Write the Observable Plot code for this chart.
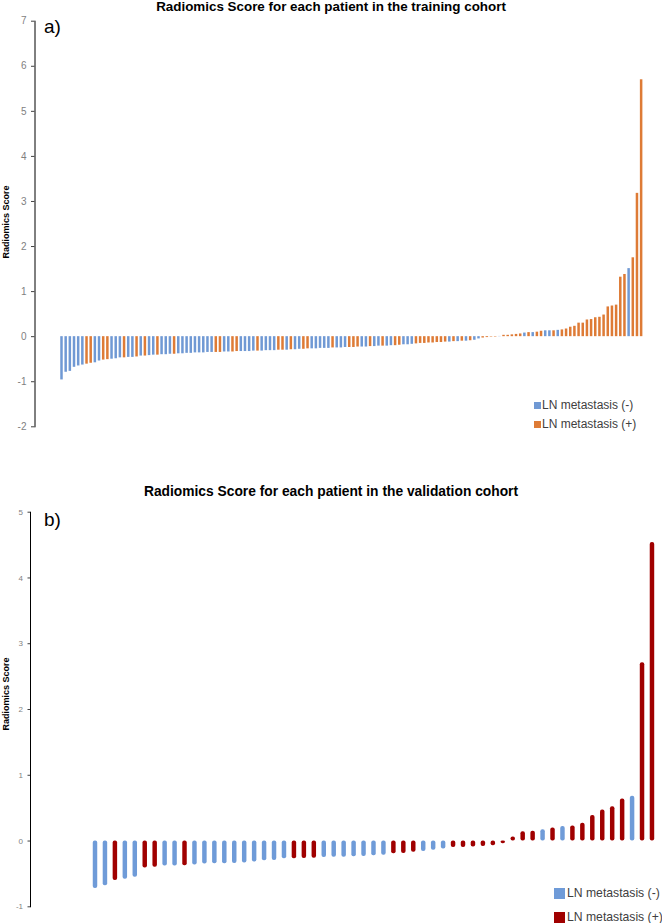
<!DOCTYPE html>
<html>
<head>
<meta charset="utf-8">
<script src="https://cdn.jsdelivr.net/npm/d3@7"></script>
<script src="https://cdn.jsdelivr.net/npm/@observablehq/plot@0.6"></script>
<style>
  html, body { margin: 0; padding: 0; background: #fff; }
  #root { position: relative; width: 662px; height: 923px; overflow: hidden; font-family: "Liberation Sans", Arial, sans-serif; color: #000; }
  .abs { position: absolute; white-space: nowrap; line-height: 1; }
  .title { font-weight: bold; width: 662px; left: 0; text-align: center; }
  .ylab { font-weight: bold; font-size: 9px; transform-origin: center; transform: translate(-50%, -50%) rotate(-90deg); }
  .panel { font-size: 19px; }
  .leg { display: flex; align-items: center; color: #404040; }
  .sw { display: inline-block; margin-right: 1px; }
  svg g[aria-label="y-axis tick label"] { fill: #7f7f7f; }
  svg g[aria-label="y-axis tick"] { stroke: #404040; }
</style>
</head>
<body>
<div id="root">
  <div id="top" class="abs" style="left:0;top:0;"></div>
  <div id="bottom" class="abs" style="left:0;top:480px;"></div>

  <div class="abs title" style="top:0px;font-size:13.4px;">Radiomics Score for each patient in the training cohort</div>
  <div class="abs panel" style="left:44px;top:17px;">a)</div>
  <div class="abs ylab" style="left:6px;top:222px;">Radiomics Score</div>
  <div class="abs leg" style="left:534px;top:399px;font-size:12px;"><span class="sw" style="width:7px;height:7px;background:#7099d4"></span>LN metastasis (-)</div>
  <div class="abs leg" style="left:534px;top:418px;font-size:12px;"><span class="sw" style="width:7px;height:7px;background:#de7b36"></span>LN metastasis (+)</div>

  <div class="abs title" style="top:485px;font-size:13.8px;">Radiomics Score for each patient in the validation cohort</div>
  <div class="abs panel" style="left:44px;top:510px;">b)</div>
  <div class="abs ylab" style="left:6px;top:694px;">Radiomics Score</div>
  <div class="abs leg" style="left:554px;top:887px;font-size:12.2px;"><span class="sw" style="width:11px;height:11px;background:#6f9bd8;margin-right:2px"></span>LN metastasis (-)</div>
  <div class="abs leg" style="left:554px;top:911px;font-size:12.2px;"><span class="sw" style="width:11px;height:11px;background:#a00000;margin-right:2px"></span>LN metastasis (+)</div>
</div>
<script>
const trainScores = [
  -0.96, -0.79, -0.77, -0.68, -0.65, -0.63, -0.61, -0.59, -0.58, -0.54,
  -0.52, -0.51, -0.50, -0.49, -0.47, -0.47, -0.46, -0.46, -0.45, -0.43,
  -0.43, -0.42, -0.41, -0.41, -0.40, -0.40, -0.39, -0.39, -0.38, -0.38,
  -0.37, -0.37, -0.36, -0.36, -0.36, -0.35, -0.35, -0.35, -0.35, -0.34,
  -0.34, -0.34, -0.33, -0.33, -0.33, -0.33, -0.32, -0.32, -0.32, -0.31,
  -0.31, -0.31, -0.30, -0.30, -0.30, -0.29, -0.29, -0.28, -0.28, -0.27,
  -0.27, -0.27, -0.26, -0.26, -0.26, -0.25, -0.25, -0.25, -0.24, -0.24,
  -0.24, -0.23, -0.23, -0.23, -0.22, -0.22, -0.21, -0.21, -0.21, -0.20,
  -0.20, -0.19, -0.18, -0.18, -0.17, -0.16, -0.15, -0.15, -0.14, -0.14,
  -0.13, -0.13, -0.12, -0.12, -0.11, -0.11, -0.10, -0.10, -0.09, -0.08,
  -0.05, -0.03, -0.02, -0.01, -0.01, 0.005, 0.03, 0.03, 0.04, 0.05,
  0.06, 0.08, 0.09, 0.09, 0.10, 0.12, 0.13, 0.13, 0.13, 0.14,
  0.15, 0.17, 0.21, 0.23, 0.30, 0.30, 0.37, 0.38, 0.42, 0.43,
  0.48, 0.66, 0.68, 0.70, 1.32, 1.38, 1.51, 1.75, 3.18, 5.70
];
const trainGroups = [
  "-","-","-","-","-","-","+","+","-","-",
  "+","+","-","-","-","+","-","-","+","-",
  "+","-","-","+","-","-","-","+","-","-",
  "-","-","-","-","-","-","-","+","+","-",
  "-","+","+","-","-","-","-","+","-","-",
  "-","-","+","+","-","+","-","-","+","+",
  "-","-","-","-","-","+","-","-","-","+",
  "+","+","-","-","+","-","-","+","-","-",
  "+","+","-","-","-","+","+","+","+","+",
  "+","+","+","-","+","-","+","-","+","-",
  "-","+","+","+","+","-","+","+","+","+",
  "+","-","+","-","+","+","-","-","+","-",
  "+","+","+","+","+","+","+","+","+","+",
  "+","+","+","+","+","+","-","+","+","+"
];
const validScores = [
  -0.72, -0.68, -0.60, -0.58, -0.55, -0.41, -0.40, -0.38, -0.38, -0.375,
  -0.365, -0.35, -0.345, -0.345, -0.34, -0.335, -0.32, -0.30, -0.295, -0.27,
  -0.27, -0.265, -0.26, -0.25, -0.245, -0.245, -0.24, -0.235, -0.225, -0.215,
  -0.195, -0.19, -0.17, -0.16, -0.14, -0.12, -0.10, -0.10, -0.09, -0.085,
  -0.07, -0.04, 0.06, 0.14, 0.15, 0.17, 0.20, 0.22, 0.23, 0.27,
  0.39, 0.47, 0.52, 0.64, 0.68, 2.71, 4.54
];
const validGroups = [
  "-","-","+","-","-","+","+","-","-","+",
  "-","-","-","-","-","-","-","-","-","-",
  "+","+","+","-","-","-","-","-","-","-",
  "+","+","+","-","-","-","+","+","+","+",
  "+","+","+","+","+","-","+","-","+","+",
  "+","+","+","+","-","+","+"
];
const groupDomain = ["-", "+"];
const trainColors = ["#7099d4", "#de7b36"];
const validColors = ["#6f9bd8", "#a00000"];
const trainTicks = [-2, -1, 0, 1, 2, 3, 4, 5, 6, 7];
const validTicks = [-1, 0, 1, 2, 3, 4, 5];

const trainData = trainScores.map((v, i) => ({i: i + 1, v, g: trainGroups[i]}));
const validData = validScores.map((v, i) => ({i: i + 1, v, g: validGroups[i]}));

const topStep = 4.17, topFirst = 61.5;
const topChart = Plot.plot({
  width: 662, height: 440,
  marginLeft: 34.5, marginRight: 0, marginTop: 20.7, marginBottom: 13.7,
  style: {fontSize: "10px", fontFamily: "Liberation Sans, Arial, sans-serif", background: "transparent"},
  x: {type: "band", round: false, domain: trainData.map(d => d.i), range: [topFirst - topStep / 2, topFirst - topStep / 2 + topStep * trainData.length], paddingInner: 0.4, paddingOuter: 0.2, axis: null},
  y: {domain: [-2, 7], ticks: trainTicks, tickSize: 3.5, tickPadding: 5, tickFormat: d => String(d), line: true, label: null},
  color: {domain: groupDomain, range: trainColors},
  marks: [
    Plot.barY(trainData, {x: "i", y: "v", fill: "g"})
  ]
});
document.getElementById("top").appendChild(topChart);

const botStep = 9.946, botFirst = 95;
const botChart = Plot.plot({
  width: 662, height: 443,
  marginLeft: 30, marginRight: 0, marginTop: 31.7, marginBottom: 16.7,
  style: {fontSize: "8px", fontFamily: "Liberation Sans, Arial, sans-serif", background: "transparent"},
  x: {type: "band", round: false, domain: validData.map(d => d.i), range: [botFirst - botStep / 2, botFirst - botStep / 2 + botStep * validData.length], paddingInner: 0.55, paddingOuter: 0.275, axis: null},
  y: {domain: [-1, 5], ticks: validTicks, tickSize: 2.5, tickPadding: 5, tickFormat: d => String(d), line: true, label: null},
  color: {domain: groupDomain, range: validColors},
  marks: [
    Plot.barY(validData, {x: "i", y: "v", fill: "g", rx: 2})
  ]
});
document.getElementById("bottom").appendChild(botChart);
</script>
</body>
</html>
